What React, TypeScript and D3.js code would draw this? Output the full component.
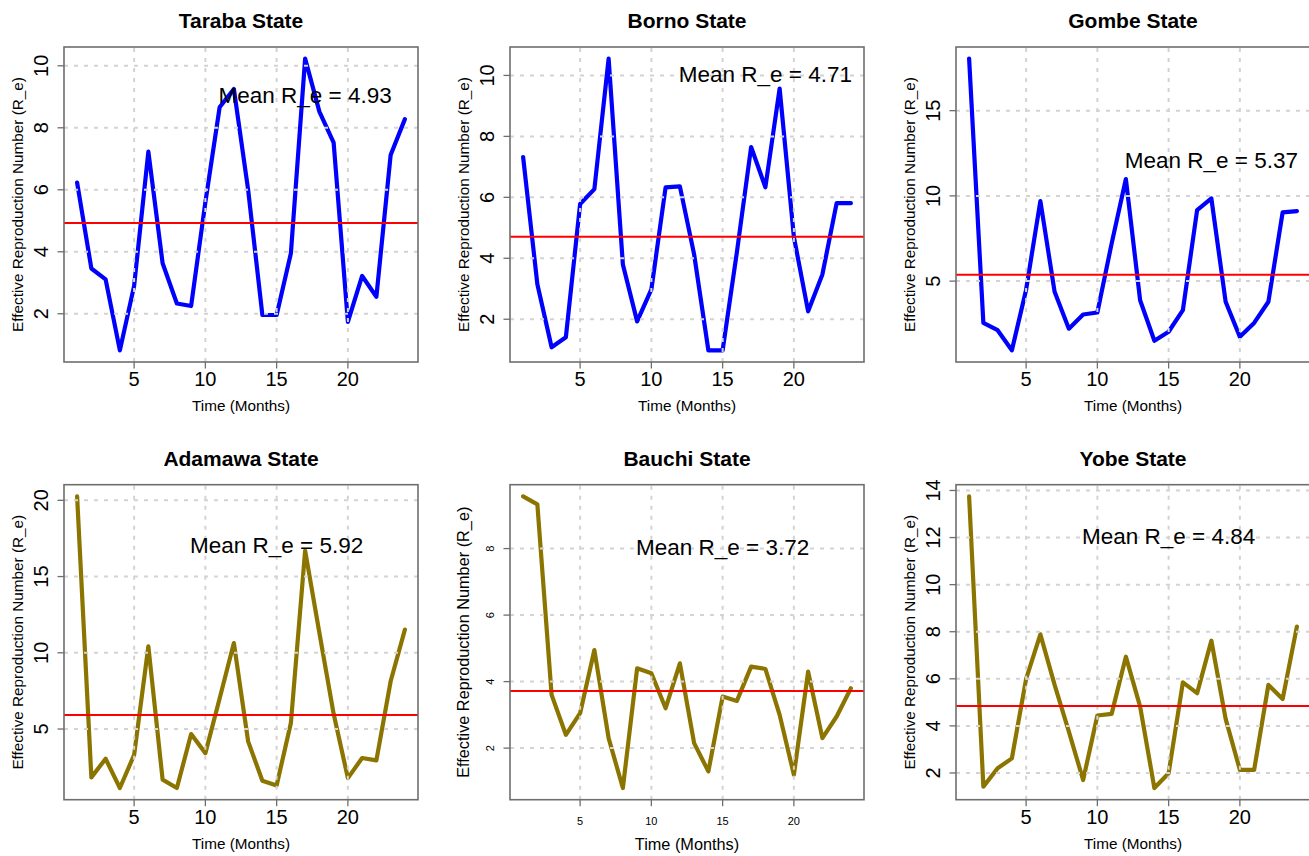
import React from 'react';
import * as d3 from 'd3';

// ---------- data ----------
const months = [1, 2, 3, 4, 5, 6, 7, 8, 9, 10, 11, 12, 13, 14, 15, 16, 17, 18, 19, 20, 21, 22, 23, 24];

const tarabaRe = [6.23, 3.46, 3.11, 0.82, 2.9, 7.23, 3.63, 2.33, 2.25, 5.6, 8.66, 9.25, 6.0, 1.96, 1.96, 3.95, 10.23, 8.52, 7.52, 1.74, 3.22, 2.55, 7.12, 8.28];
const bornoRe = [7.32, 3.15, 1.08, 1.41, 5.78, 6.27, 10.55, 3.8, 1.93, 2.98, 6.33, 6.36, 4.13, 0.98, 0.98, 4.2, 7.65, 6.33, 9.57, 4.7, 2.26, 3.47, 5.81, 5.81];
const gombeRe = [18.05, 2.55, 2.12, 0.94, 4.5, 9.7, 4.37, 2.21, 3.04, 3.16, 7.2, 10.99, 3.88, 1.5, 2.03, 3.3, 9.17, 9.85, 3.79, 1.73, 2.55, 3.79, 9.03, 9.11];
const adamawaRe = [20.26, 1.83, 3.05, 1.13, 3.3, 10.42, 1.68, 1.13, 4.67, 3.42, 7.0, 10.64, 4.19, 1.61, 1.3, 5.39, 16.7, 11.3, 6.0, 1.78, 3.1, 2.94, 8.13, 11.52];
const bauchiRe = [9.57, 9.33, 3.6, 2.4, 3.05, 4.95, 2.3, 0.8, 4.4, 4.25, 3.2, 4.55, 2.15, 1.3, 3.55, 3.42, 4.45, 4.38, 3.0, 1.2, 4.3, 2.3, 2.95, 3.8];
const yobeRe = [13.75, 1.42, 2.2, 2.62, 6.0, 7.89, 5.74, 3.76, 1.7, 4.44, 4.51, 6.94, 4.82, 1.36, 1.99, 5.85, 5.39, 7.62, 4.3, 2.13, 2.13, 5.74, 5.14, 8.22];

const stateNames = ['Taraba State', 'Borno State', 'Gombe State', 'Adamawa State', 'Bauchi State', 'Yobe State'];
const meanRe = [4.93, 4.71, 5.37, 5.92, 3.72, 4.84];

const xTicks = [5, 10, 15, 20];
const tarabaYTicks = [2, 4, 6, 8, 10];
const bornoYTicks = [2, 4, 6, 8, 10];
const gombeYTicks = [5, 10, 15];
const adamawaYTicks = [5, 10, 15, 20];
const bauchiYTicks = [2, 4, 6, 8];
const yobeYTicks = [2, 4, 6, 8, 10, 12, 14];

// ---------- layout ----------
const W = 1309;
const H = 856;
const BOX_W = 354;
const BOX_H = 315;
const FONT = "'Liberation Sans', Arial, Helvetica, sans-serif";
const BLUE = '#0000ff';
const OLIVE = '#8b7500';

type Panel = {
  title: string;
  values: number[];
  mean: number;
  yTicks: number[];
  color: string;
  left: number;
  top: number;
  labelAt: [number, number];
  tickFont: number;
  axisFont: number;
  xTitleOffset: number;
};

const seriesList = [tarabaRe, bornoRe, gombeRe, adamawaRe, bauchiRe, yobeRe];
const yTickList = [tarabaYTicks, bornoYTicks, gombeYTicks, adamawaYTicks, bauchiYTicks, yobeYTicks];
const lefts = [64, 510, 956, 64, 510, 956];
const tops = [47, 47, 47, 484.7, 484.7, 484.7];
const labelPositions: [number, number][] = [[17, 9], [18, 10], [18, 12], [15, 17], [15, 8], [15, 12]];

const panels: Panel[] = stateNames.map((title, i) => ({
  title,
  values: seriesList[i],
  mean: meanRe[i],
  yTicks: yTickList[i],
  color: i < 3 ? BLUE : OLIVE,
  left: lefts[i],
  top: tops[i],
  labelAt: labelPositions[i],
  tickFont: i === 4 ? 11 : 20,
  axisFont: i === 4 ? 16.3 : 15.3,
  xTitleOffset: i === 4 ? 50 : 49,
}));

function PanelChart({ p }: { p: Panel }) {
  const right = p.left + BOX_W;
  const bottom = p.top + BOX_H;
  const xExt = d3.extent(months) as [number, number];
  const xPad = (xExt[1] - xExt[0]) * 0.04;
  const x = d3.scaleLinear().domain([xExt[0] - xPad, xExt[1] + xPad]).range([p.left, right]);
  const yExt = d3.extent(p.values) as [number, number];
  const yPad = (yExt[1] - yExt[0]) * 0.04;
  const y = d3.scaleLinear().domain([yExt[0] - yPad, yExt[1] + yPad]).range([bottom, p.top]);
  const line = d3
    .line<number>()
    .x((_, i) => x(months[i]))
    .y((d) => y(d));
  const cx = (p.left + right) / 2;
  const cy = (p.top + bottom) / 2;
  const grid = '#d3d3d3';
  const clipId = 'clip-' + p.title.replace(/\s/g, '');
  return (
    <g>
      <defs>
        <clipPath id={clipId}>
          <rect x={p.left} y={p.top} width={BOX_W} height={BOX_H} />
        </clipPath>
      </defs>
      <text x={cx} y={p.top - 18.7} textAnchor="middle" fontSize={21} fontWeight="bold" fontFamily={FONT} fill="#000">
        {p.title}
      </text>
      <g clipPath={`url(#${clipId})`}>
        <path d={line(p.values) || ''} fill="none" stroke={p.color} strokeWidth={4.2} strokeLinejoin="round" strokeLinecap="round" />
        {xTicks.map((t) => (
          <line key={'gx' + t} x1={x(t)} x2={x(t)} y1={bottom} y2={p.top} stroke={grid} strokeWidth={2} strokeDasharray="4,6" />
        ))}
        {p.yTicks.map((t) => (
          <line key={'gy' + t} x1={p.left} x2={right} y1={y(t)} y2={y(t)} stroke={grid} strokeWidth={2} strokeDasharray="4,6" />
        ))}
        <line x1={p.left} x2={right} y1={y(p.mean)} y2={y(p.mean)} stroke="#ff0000" strokeWidth={2} />
      </g>
      <text
        x={x(p.labelAt[0])}
        y={y(p.labelAt[1]) + 6.5}
        textAnchor="middle"
        fontSize={22.5}
        fontFamily={FONT}
        fill="#000"
      >
        {`Mean R_e = ${p.mean.toFixed(2)}`}
      </text>
      <rect x={p.left} y={p.top} width={BOX_W} height={BOX_H} fill="none" stroke="#6e6e6e" strokeWidth={1.6} />
      {xTicks.map((t) => (
        <g key={'xt' + t}>
          <line x1={x(t)} x2={x(t)} y1={bottom} y2={bottom + 6.5} stroke="#6e6e6e" strokeWidth={1.3} />
          <text x={x(t)} y={bottom + (p.tickFont > 15 ? 24 : 25)} textAnchor="middle" fontSize={p.tickFont} fontFamily={FONT} fill="#000">
            {t}
          </text>
        </g>
      ))}
      {p.yTicks.map((t) => (
        <g key={'yt' + t}>
          <line x1={p.left} x2={p.left - 6.5} y1={y(t)} y2={y(t)} stroke="#6e6e6e" strokeWidth={1.3} />
          <text
            transform={`translate(${p.left - 15.7},${y(t)}) rotate(-90)`}
            textAnchor="middle"
            fontSize={p.tickFont}
            fontFamily={FONT}
            fill="#000"
          >
            {t}
          </text>
        </g>
      ))}
      <text x={cx} y={bottom + p.xTitleOffset} textAnchor="middle" fontSize={p.axisFont} fontFamily={FONT} fill="#000">
        Time (Months)
      </text>
      <text
        transform={`translate(${p.left - 41.3},${cy}) rotate(-90)`}
        textAnchor="middle"
        fontSize={p.axisFont}
        fontFamily={FONT}
        fill="#000"
      >
        Effective Reproduction Number (R_e)
      </text>
    </g>
  );
}

export default function App() {
  return (
    <svg
      width={W}
      height={H}
      viewBox={`0 0 ${W} ${H}`}
      style={{ position: 'absolute', left: 0, top: 0, background: '#fff', display: 'block' }}
    >
      <rect x={0} y={0} width={W} height={H} fill="#fff" />
      {panels.map((p) => (
        <PanelChart key={p.title} p={p} />
      ))}
    </svg>
  );
}
